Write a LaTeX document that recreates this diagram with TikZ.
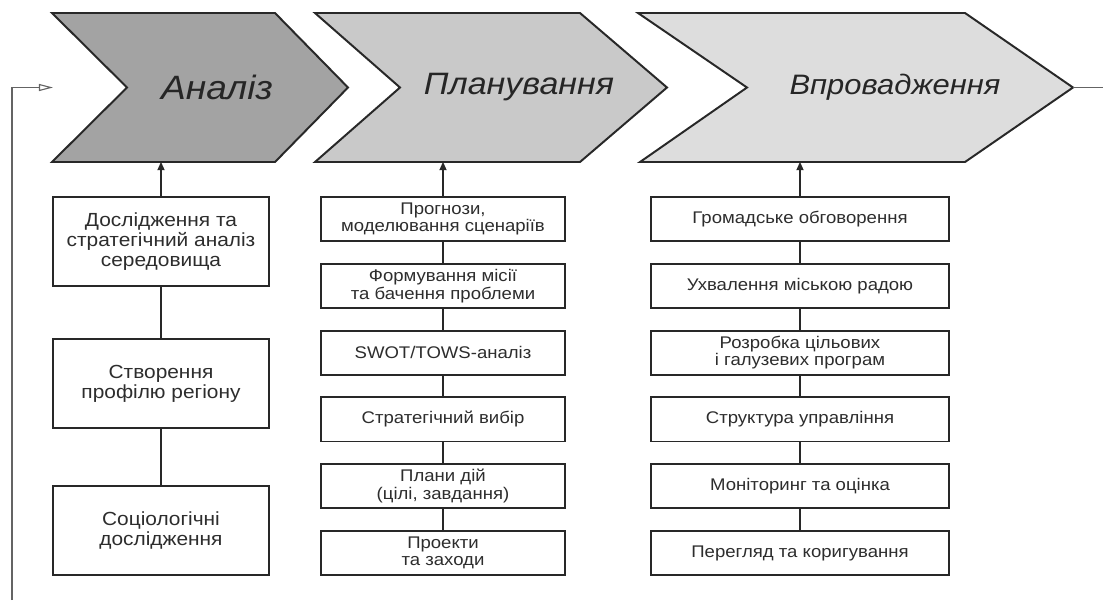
\documentclass[tikz,border=0pt]{standalone}
\usepackage{fontspec}
\setmainfont{Liberation Sans}[FakeStretch=1.1]
\usepackage{xcolor}
\usetikzlibrary{arrows.meta,positioning}
\definecolor{StageDark}{RGB}{163,163,163}
\definecolor{StageMid}{RGB}{201,201,201}
\definecolor{StageLight}{RGB}{221,221,221}
\definecolor{StageLine}{RGB}{40,40,40}
\definecolor{StepText}{RGB}{45,45,45}
\definecolor{LoopLine}{RGB}{100,100,100}

\begin{document}
\begin{tikzpicture}[
x=0.025cm, y=-0.025cm,
chevron/.style={
fill=#1,
draw=StageLine,
line width=1.4pt
},
stage/.style={
text=black!85,
inner sep=0pt,
minimum height=3.725cm
},
stepA/.style={
draw=StageLine,
line width=1.3pt,
fill=white,
align=center,
inner sep=2pt,
text=StepText,
minimum width=5.4cm,
minimum height=2.225cm,
font=\fontsize{13.5}{14.3}\selectfont
},
stepB/.style={
stepA,
minimum width=6.1cm,
minimum height=1.1cm,
font=\fontsize{12}{12.6}\selectfont
},
stepC/.style={
stepB,
minimum width=7.45cm
},
link/.style={
draw=StageLine,
line width=1.2pt
},
up/.style={
link,
-{Triangle[length=6pt,width=5pt]}
},
loop/.style={
draw=LoopLine,
line width=0.8pt
}
]
\useasboundingbox (0,0) rectangle (1103,600);

% stages
\filldraw[chevron=StageDark] (52,13) -- (275,13) -- (348,87.5) -- (275,162) -- (52,162) -- (127,87.5) -- cycle;
\filldraw[chevron=StageMid] (315,13) -- (580,13) -- (667,87.5) -- (580,162) -- (315,162) -- (400,87.5) -- cycle;
\filldraw[chevron=StageLight] (638,13) -- (965,13) -- (1073,87.5) -- (965,162) -- (640,162) -- (747,87.5) -- cycle;

\node[stage, font=\fontsize{24}{26}\selectfont\itshape] (analiz) at (217,87) {Аналіз};
\node[stage, font=\fontsize{22}{24}\selectfont\itshape] (planuv) at (519,87) {Планування};
\node[stage, font=\fontsize{20}{22}\selectfont\itshape] (vprov) at (895,87) {Впровадження};

\coordinate (loop-in) at (53,87.5);
\coordinate (loop-bot) at (12,600);
\coordinate (vprov-tip) at (1073,87.5);
\coordinate (out) at (1103,87.5);

% analysis
\node[stepA] (a1) at (161,241.5) {Дослідження та\\стратегічний аналіз\\середовища};
\node[stepA] (a2) at (161,383.5) {Створення\\профілю регіону};
\node[stepA] (a3) at (161,530.5) {Соціологічні\\дослідження};

% planning
\node[stepB] (p1) at (443,219) {Прогнози,\\моделювання сценаріїв};
\node[stepB] (p2) at (443,285.8) {Формування місії\\та бачення проблеми};
\node[stepB] (p3) at (443,352.6) {SWOT/TOWS-аналіз};
\node[stepB] (p4) at (443,419.4) {Стратегічний вибір};
\node[stepB] (p5) at (443,486.2) {Плани дій\\(цілі, завдання)};
\node[stepB] (p6) at (443,553) {Проекти\\та заходи};

% implementation
\node[stepC] (v1) at (800,219) {Громадське обговорення};
\node[stepC] (v2) at (800,285.8) {Ухвалення міською радою};
\node[stepC] (v3) at (800,352.6) {Розробка цільових\\і галузевих програм};
\node[stepC] (v4) at (800,419.4) {Структура управління};
\node[stepC] (v5) at (800,486.2) {Моніторинг та оцінка};
\node[stepC] (v6) at (800,553) {Перегляд та коригування};

\draw[up] (a1.north) -- (a1.north |- analiz.south);
\draw[up] (p1.north) -- (p1.north |- planuv.south);
\draw[up] (v1.north) -- (v1.north |- vprov.south);

\draw[link] (a1) -- (a2);
\draw[link] (a2) -- (a3);

\draw[link] (p1) -- (p2);
\draw[link] (p2) -- (p3);
\draw[link] (p3) -- (p4);
\draw[link] (p4) -- (p5);
\draw[link] (p5) -- (p6);

\draw[link] (v1) -- (v2);
\draw[link] (v2) -- (v3);
\draw[link] (v3) -- (v4);
\draw[link] (v4) -- (v5);
\draw[link] (v5) -- (v6);

% feedback
\draw[loop, -{Triangle[open,length=10pt,width=5pt]}] (loop-bot) |- (loop-in);
\draw[loop] (vprov-tip) -- (out);
\end{tikzpicture}
\end{document}
